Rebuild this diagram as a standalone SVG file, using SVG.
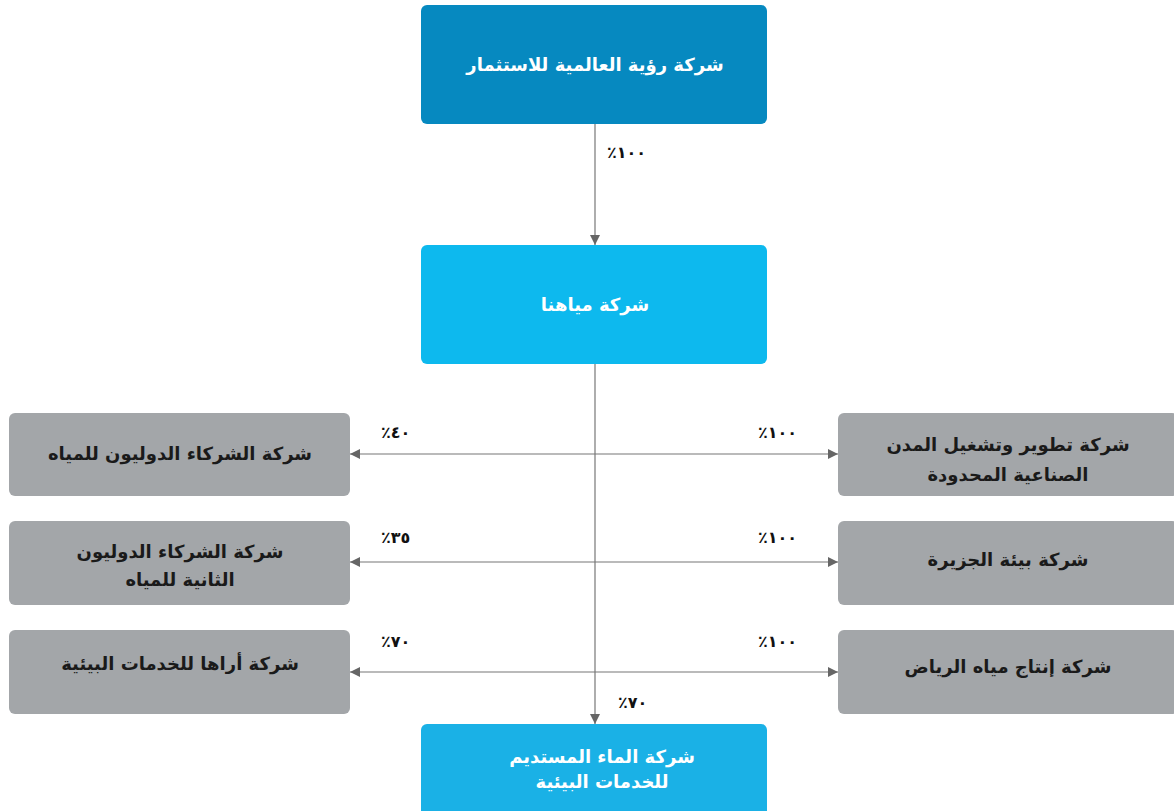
<svg xmlns="http://www.w3.org/2000/svg" width="1174" height="811" viewBox="0 0 1174 811">
<style>
.t{font-family:"DejaVu Sans","Noto Sans",sans-serif;font-weight:bold;font-size:18px;text-anchor:middle;direction:rtl}
.w{fill:#ffffff}
.d{fill:#1a1a1a}
.g{fill:#a3a6a9}
.p{font-family:"DejaVu Sans","Noto Sans",sans-serif;font-weight:bold;font-size:16px;letter-spacing:2.5px;fill:#111;direction:ltr;unicode-bidi:bidi-override}
.c{stroke:#777;stroke-width:1.2;fill:none}
</style>
<defs>
<marker id="ah" viewBox="0 0 10 10" refX="10" refY="5" markerWidth="10" markerHeight="10" markerUnits="userSpaceOnUse" orient="auto-start-reverse">
<path d="M0,0 L10,5 L0,10 z" fill="#666"/>
</marker>
</defs>
<rect width="1174" height="811" fill="#ffffff"/>
<g id="connectors">
<line class="c" x1="595" y1="124" x2="595" y2="245" marker-end="url(#ah)"/>
<line class="c" x1="595" y1="364" x2="595" y2="724" marker-end="url(#ah)"/>
<line class="c" x1="350" y1="454" x2="838" y2="454" marker-start="url(#ah)" marker-end="url(#ah)"/>
<line class="c" x1="350" y1="562" x2="838" y2="562" marker-start="url(#ah)" marker-end="url(#ah)"/>
<line class="c" x1="350" y1="672" x2="838" y2="672" marker-start="url(#ah)" marker-end="url(#ah)"/>
<text class="p" x="607" y="158">٪١٠٠</text>
<text class="p" x="381" y="438">٪٤٠</text>
<text class="p" x="758" y="438">٪١٠٠</text>
<text class="p" x="381" y="543">٪٣٥</text>
<text class="p" x="758" y="543">٪١٠٠</text>
<text class="p" x="381" y="647">٪٧٠</text>
<text class="p" x="758" y="647">٪١٠٠</text>
<text class="p" x="618" y="708">٪٧٠</text>
</g>
<g id="n-roaya">
<rect x="421" y="5" width="346" height="119" rx="6" fill="#0689c0"/>
<text class="t w" x="595" y="71">شركة رؤية العالمية للاستثمار</text>
</g>
<g id="n-miyahuna">
<rect x="421" y="245" width="346" height="119" rx="6" fill="#0db9ee"/>
<text class="t w" x="595" y="311">شركة مياهنا</text>
</g>
<g id="n-partners">
<rect class="g" x="9" y="413" width="341" height="83" rx="6"/>
<text class="t d" x="180" y="460">شركة الشركاء الدوليون للمياه</text>
</g>
<g id="n-partners2">
<rect class="g" x="9" y="521" width="341" height="84" rx="6"/>
<text class="t d" x="180" y="558">شركة الشركاء الدوليون</text>
<text class="t d" x="180" y="586">الثانية للمياه</text>
</g>
<g id="n-araha">
<rect class="g" x="9" y="630" width="341" height="84" rx="6"/>
<text class="t d" x="180" y="670">شركة أراها للخدمات البيئية</text>
</g>
<g id="n-modon">
<rect class="g" x="838" y="413" width="340" height="83" rx="6"/>
<text class="t d" x="1008" y="451">شركة تطوير وتشغيل المدن</text>
<text class="t d" x="1008" y="481">الصناعية المحدودة</text>
</g>
<g id="n-jazeera">
<rect class="g" x="838" y="521" width="340" height="84" rx="6"/>
<text class="t d" x="1008" y="566">شركة بيئة الجزيرة</text>
</g>
<g id="n-riyadh">
<rect class="g" x="838" y="630" width="340" height="84" rx="6"/>
<text class="t d" x="1008" y="673">شركة إنتاج مياه الرياض</text>
</g>
<g id="n-mustadeem">
<rect x="421" y="724" width="346" height="100" rx="6" fill="#1ab1e6"/>
<text class="t w" x="602" y="763">شركة الماء المستديم</text>
<text class="t w" x="602" y="788">للخدمات البيئية</text>
</g>
</svg>
